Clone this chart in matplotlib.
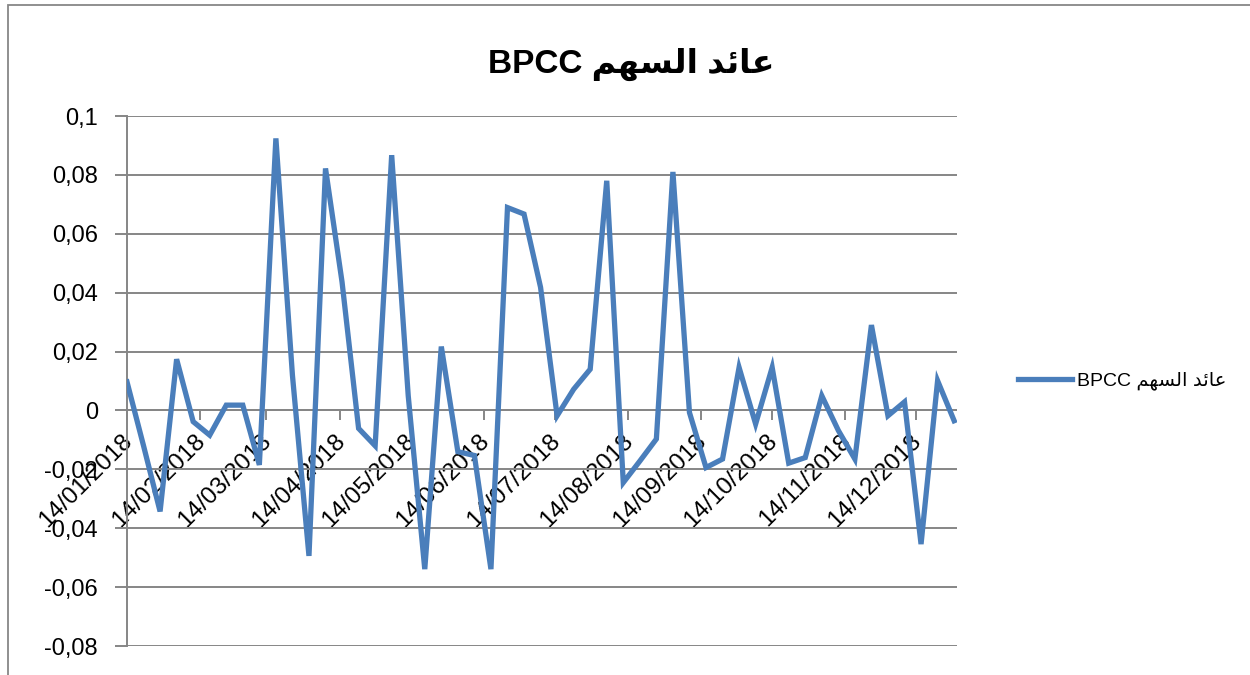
import matplotlib
matplotlib.use("Agg")
import matplotlib.pyplot as plt
import matplotlib.transforms as mtransforms
from matplotlib.patches import Rectangle
import datetime as dt

# ---------------- data ----------------
title_text = "عائد السهم BPCC"
series_name = "عائد السهم BPCC"

dates = ["2018-01-14", "2018-01-21", "2018-01-28", "2018-02-04", "2018-02-11",
         "2018-02-18", "2018-02-25", "2018-03-04", "2018-03-11", "2018-03-18",
         "2018-03-25", "2018-04-01", "2018-04-08", "2018-04-15", "2018-04-22",
         "2018-04-29", "2018-05-06", "2018-05-13", "2018-05-20", "2018-05-27",
         "2018-06-03", "2018-06-10", "2018-06-17", "2018-06-24", "2018-07-01",
         "2018-07-08", "2018-07-15", "2018-07-22", "2018-07-29", "2018-08-05",
         "2018-08-12", "2018-08-19", "2018-08-26", "2018-09-02", "2018-09-09",
         "2018-09-16", "2018-09-23", "2018-09-30", "2018-10-07", "2018-10-14",
         "2018-10-21", "2018-10-28", "2018-11-04", "2018-11-11", "2018-11-18",
         "2018-11-25", "2018-12-02", "2018-12-09", "2018-12-16", "2018-12-23",
         "2018-12-30"]

returns = [0.0097, -0.012, -0.0343, 0.0174, -0.0038, -0.0084, 0.0018, 0.0018,
           -0.0185, 0.0924, 0.012, -0.0494, 0.0822, 0.0436, -0.0061, -0.012,
           0.0867, 0.005, -0.0539, 0.0217, -0.014, -0.0153, -0.0539, 0.0689,
           0.0667, 0.0418, -0.0018, 0.0072, 0.014, 0.078, -0.0245, -0.0172,
           -0.0097, 0.081, -0.0007, -0.0194, -0.0165, 0.0146, -0.0046, 0.0146,
           -0.0179, -0.016, 0.005, -0.0068, -0.0165, 0.029, -0.0018, 0.0029,
           -0.0454, 0.0101, -0.0035]

tick_dates = ["2018-01-14", "2018-02-14", "2018-03-14", "2018-04-14", "2018-05-14",
              "2018-06-14", "2018-07-14", "2018-08-14", "2018-09-14", "2018-10-14",
              "2018-11-14", "2018-12-14"]
y_ticks = [-0.08, -0.06, -0.04, -0.02, 0, 0.02, 0.04, 0.06, 0.08, 0.1]

# ------------- minimal Arabic shaping (for a renderer without bidi) -------------
# forms: isolated, final, initial, medial ; joins_next flag
FORMS = {
    "ع": ("\uFEC9", "\uFECA", "\uFECB", "\uFECC", True),
    "ا": ("\uFE8D", "\uFE8E", None, None, False),
    "ئ": ("\uFE89", "\uFE8A", "\uFE8B", "\uFE8C", True),
    "د": ("\uFEA9", "\uFEAA", None, None, False),
    "ل": ("\uFEDD", "\uFEDE", "\uFEDF", "\uFEE0", True),
    "س": ("\uFEB1", "\uFEB2", "\uFEB3", "\uFEB4", True),
    "ه": ("\uFEE9", "\uFEEA", "\uFEEB", "\uFEEC", True),
    "م": ("\uFEE1", "\uFEE2", "\uFEE3", "\uFEE4", True),
}


def shape_word(word):
    out = []
    for i, ch in enumerate(word):
        if ch not in FORMS:
            out.append(ch)
            continue
        prev = word[i - 1] if i > 0 else None
        nxt = word[i + 1] if i + 1 < len(word) else None
        join_prev = prev in FORMS and FORMS[prev][4]
        join_next = nxt in FORMS and FORMS[ch][4]
        iso, fin, ini, med, _ = FORMS[ch]
        if join_prev and join_next:
            out.append(med)
        elif join_prev:
            out.append(fin)
        elif join_next:
            out.append(ini)
        else:
            out.append(iso)
    return "".join(out)


def visual(text):
    # RTL paragraph rendered left-to-right: Latin run at the left, Arabic reversed
    tokens = text.split(" ")
    arabic = [t for t in tokens if any(c in FORMS for c in t)]
    latin = [t for t in tokens if not any(c in FORMS for c in t)]
    ar = " ".join(shape_word(w) for w in arabic)[::-1]
    return " ".join(latin) + " " + ar


# ---------------- figure ----------------
W, H = 1250, 675
fig = plt.figure(figsize=(W / 100, H / 100), dpi=100)
fams = ["Liberation Sans", "DejaVu Sans"]

# chart border (partially visible)
fig.patches.append(Rectangle((8 / W, -0.1), 1.2, 1 - 5 / H + 0.1, transform=fig.transFigure,
                             fill=False, edgecolor="#878787", linewidth=1.3))

ax = fig.add_axes([127 / W, 1 - 646 / H, 829.5 / W, 530 / H])
x = [dt.datetime.strptime(d, "%Y-%m-%d") for d in dates]
ax.plot(x, returns, color="#4A7EBB", linewidth=3.8, solid_joinstyle="miter",
        label=visual(series_name), zorder=3)

ax.set_xlim(dt.datetime(2018, 1, 14), dt.datetime(2018, 12, 31))
ax.set_ylim(-0.08, 0.1)
ax.set_yticks(y_ticks)
ax.set_yticklabels([("%g" % v).replace(".", ",") for v in y_ticks], fontsize=17,
                   family=fams)
ax.yaxis.grid(True, color="#868686", linewidth=1.4)
ax.set_axisbelow(True)
for s in ["top", "right"]:
    ax.spines[s].set_visible(False)
ax.spines["left"].set_color("#868686")
ax.spines["left"].set_linewidth(1.4)
ax.tick_params(axis="y", length=9, width=1.4, color="#868686", pad=12)

# x axis crossing at 0
ax.spines["bottom"].set_position(("data", 0))
ax.spines["bottom"].set_color("#868686")
ax.spines["bottom"].set_linewidth(1.4)
tks = [dt.datetime.strptime(d, "%Y-%m-%d") for d in tick_dates]
ax.set_xticks(tks)
ax.set_xticklabels([t.strftime("%d/%m/%Y") for t in tks], rotation=45,
                   ha="right", va="top", rotation_mode="anchor", fontsize=17.5,
                   family=fams)
ax.tick_params(axis="x", length=7, width=1.4, color="#868686", pad=7)
shift = mtransforms.ScaledTranslation(-6 / 100, 0, fig.dpi_scale_trans)
for lab in ax.get_xticklabels():
    lab.set_transform(lab.get_transform() + shift)

fig.text(631 / W, 1 - 73 / H, visual(title_text), ha="center", va="baseline",
         fontsize=24, fontweight="bold", family=fams)

leg = fig.legend(loc="center left", bbox_to_anchor=(1000 / W, 1 - 381 / H),
                 frameon=False, handlelength=2.8, handletextpad=0.25,
                 prop={"family": fams, "size": 14})

fig.savefig("out.png", dpi=100)
